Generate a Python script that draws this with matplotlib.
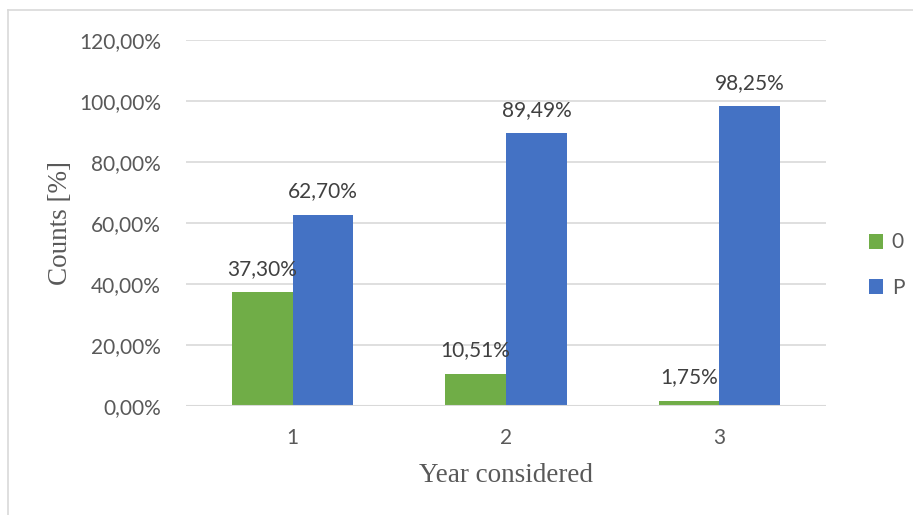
import matplotlib
matplotlib.use("Agg")
import matplotlib.pyplot as plt
from matplotlib.lines import Line2D
import numpy as np

categories = ["1", "2", "3"]
series_names = ["0", "P"]
values_0 = [37.30, 10.51, 1.75]
values_P = [62.70, 89.49, 98.25]
yticks = [0, 20, 40, 60, 80, 100, 120]

green = "#70ad47"
blue = "#4472c4"
txt = "#595959"
grid = "#d9d9d9"
sans = ["Lato", "DejaVu Sans"]
serif = ["Liberation Serif", "DejaVu Serif"]
fs = 15

fig = plt.figure(figsize=(9.13, 5.15), dpi=100)
ax = fig.add_axes([186/913, 1 - 406/515, 640/913, 366/515])

x = np.arange(len(categories))
w = 0.285
b0 = ax.bar(x - w/2, values_0, w, color=green, label=series_names[0], zorder=3)
b1 = ax.bar(x + w/2, values_P, w, color=blue, label=series_names[1], zorder=3)

def fmt(v):
    return f"{v:.2f}%".replace(".", ",")

for bars, vals in ((b0, values_0), (b1, values_P)):
    for r, v in zip(bars, vals):
        ax.annotate(fmt(v), (r.get_x() + r.get_width()/2, v), xytext=(0, 12.5),
                    textcoords="offset points", ha="center", va="baseline",
                    fontsize=fs, color="#404040", family=sans)

ax.set_xlim(-0.5, 2.5)
ax.set_ylim(0, 120)
ax.set_yticks(yticks)
ax.set_yticklabels([fmt(t) for t in yticks], family=sans, fontsize=fs, color=txt)
ax.set_xticks(x)
ax.set_xticklabels(categories, family=sans, fontsize=fs, color=txt)
ax.tick_params(length=0)
ax.tick_params(axis="y", pad=18)
ax.tick_params(axis="x", pad=16)
ax.grid(axis="y", color=grid, linewidth=1.2, zorder=0)
for s in ax.spines.values():
    s.set_visible(False)
ax.axhline(0, color=grid, linewidth=1.5, zorder=4)

ax.set_xlabel("Year considered", family=serif, fontsize=19.5, color=txt, labelpad=11)
ax.set_ylabel("Counts [%]", family=serif, fontsize=19.5, color=txt, labelpad=4)

leg = fig.legend(handles=[b0, b1], labels=series_names, loc="center left",
                 bbox_to_anchor=(850/913, 1 - 265/515), frameon=False,
                 prop={"family": sans, "size": fs}, handlelength=0.7, handleheight=0.7,
                 labelspacing=1.2, handletextpad=0.4)
for t in leg.get_texts():
    t.set_color(txt)

# outer chart border (left and top visible)
fig.add_artist(Line2D([8/913, 8/913], [0, 1 - 10/515], color=grid, linewidth=1.2, transform=fig.transFigure))
fig.add_artist(Line2D([8/913, 1], [1 - 10/515, 1 - 10/515], color=grid, linewidth=1.2, transform=fig.transFigure))

fig.savefig("out.png", dpi=100)
